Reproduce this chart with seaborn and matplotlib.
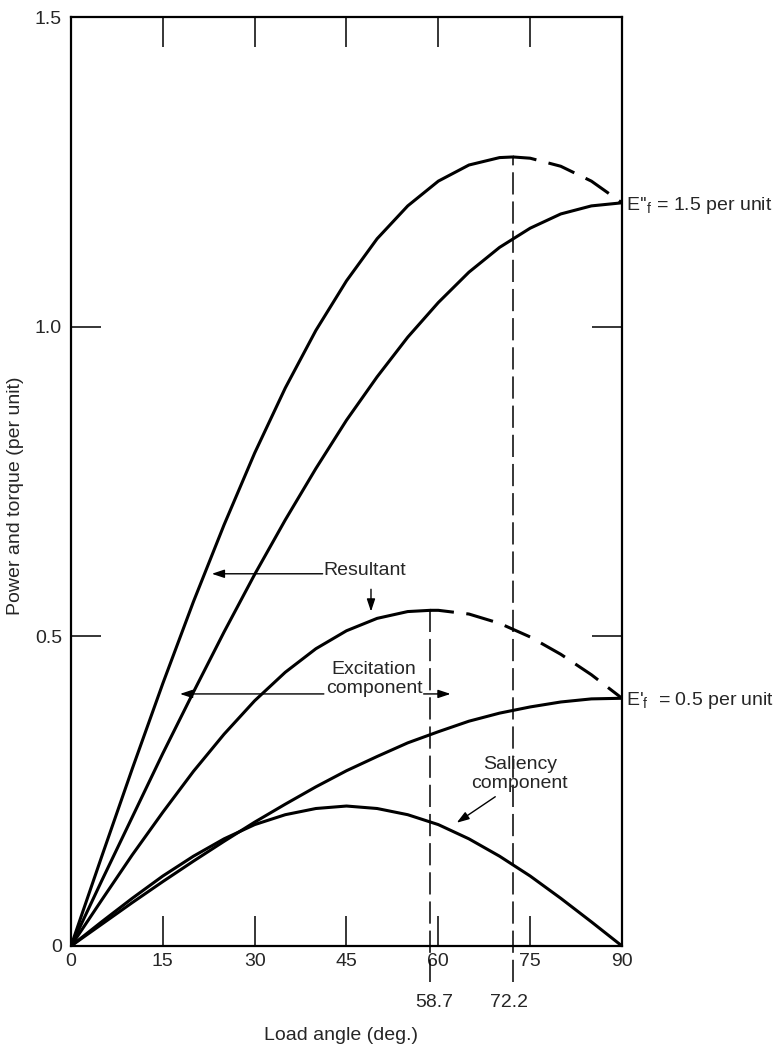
import matplotlib
matplotlib.use("Agg")
import matplotlib.pyplot as plt
import seaborn as sns
import pandas as pd

# Load angle samples (degrees)
angle = [0, 5, 10, 15, 20, 25, 30, 35, 40, 45, 50, 55, 60, 65, 70, 75, 80, 85, 90]

# Component curves (per unit)
saliency = [0.000, 0.039, 0.077, 0.113, 0.145, 0.173, 0.196, 0.212, 0.222, 0.226,
            0.222, 0.212, 0.196, 0.173, 0.145, 0.113, 0.077, 0.039, 0.000]
excitation_low = [0.000, 0.035, 0.070, 0.104, 0.137, 0.169, 0.200, 0.229, 0.257, 0.283,
                  0.306, 0.328, 0.346, 0.363, 0.376, 0.386, 0.394, 0.399, 0.400]
excitation_high = [0.000, 0.105, 0.208, 0.311, 0.410, 0.507, 0.600, 0.688, 0.771, 0.849,
                   0.919, 0.983, 1.039, 1.088, 1.128, 1.159, 1.182, 1.195, 1.200]

# Resultant curves, including their maxima
resultant_low_angle = [0, 5, 10, 15, 20, 25, 30, 35, 40, 45, 50, 55, 58.7,
                       60, 65, 70, 75, 80, 85, 90]
resultant_low = [0.000, 0.074, 0.147, 0.216, 0.282, 0.342, 0.396, 0.442, 0.480, 0.509,
                 0.529, 0.540, 0.542, 0.542, 0.536, 0.521, 0.499, 0.471, 0.438, 0.400]
resultant_high_angle = [0, 5, 10, 15, 20, 25, 30, 35, 40, 45, 50, 55, 60, 65, 70, 72.2,
                        75, 80, 85, 90]
resultant_high = [0.000, 0.144, 0.286, 0.424, 0.556, 0.680, 0.796, 0.901, 0.994, 1.074,
                  1.142, 1.195, 1.235, 1.261, 1.273, 1.274, 1.272, 1.259, 1.235, 1.200]

peak_angle = [58.7, 72.2]
peak_value = [0.542, 1.274]
peak_labels = ["58.7", "72.2"]

x_ticks = [0, 15, 30, 45, 60, 75, 90]
y_ticks = [0, 0.5, 1.0, 1.5]
y_tick_labels = ["0", "0.5", "1.0", "1.5"]

sns.set_style("ticks")
plt.rcParams["font.family"] = ["Liberation Sans", "DejaVu Sans"]
plt.rcParams["mathtext.fontset"] = "custom"
plt.rcParams["mathtext.rm"] = "Liberation Sans"
plt.rcParams["mathtext.it"] = "Liberation Sans:italic"
plt.rcParams["lines.scale_dashes"] = False
plt.rcParams["font.size"] = 14

W, H = 784, 1050
fig = plt.figure(figsize=(W / 100, H / 100), dpi=100)
ax = fig.add_axes([71 / W, 1 - 946 / H, 551 / W, 929 / H])

LW = 2.2
curve_dash = (3, (20, 9))

# Components
sns.lineplot(x=angle, y=saliency, ax=ax, color="black", lw=LW, estimator=None, sort=False)
sns.lineplot(x=angle, y=excitation_low, ax=ax, color="black", lw=LW, estimator=None, sort=False)
sns.lineplot(x=angle, y=excitation_high, ax=ax, color="black", lw=LW, estimator=None, sort=False)

# Resultants: solid up to the maximum, dashed beyond it
for xs, ys, pk in [(resultant_low_angle, resultant_low, peak_angle[0]),
                   (resultant_high_angle, resultant_high, peak_angle[1])]:
    df = pd.DataFrame({"angle": xs, "p": ys})
    rise = df[df["angle"] <= pk]
    fall = df[df["angle"] >= pk]
    sns.lineplot(data=rise, x="angle", y="p", ax=ax, color="black", lw=LW,
                 estimator=None, sort=False)
    sns.lineplot(data=fall, x="angle", y="p", ax=ax, color="black", lw=LW,
                 estimator=None, sort=False, linestyle=curve_dash)

# Vertical markers at the maxima, running below the axis
ax.vlines(peak_angle, ymin=-0.058, ymax=peak_value, colors="black", lw=1.1,
          linestyles=[(0, (16, 5))], clip_on=False)
for a, lab, dx in zip(peak_angle, peak_labels, [0.7, -0.6]):
    ax.text(a + dx, -0.0905, lab, ha="center", va="center", fontsize=14, clip_on=False)

ax.set_xlim(0, 90)
ax.set_ylim(0, 1.5)
ax.set_xticks(x_ticks)
ax.set_xticklabels([str(t) for t in x_ticks])
ax.set_yticks(y_ticks)
ax.set_yticklabels(y_tick_labels)
ax.tick_params(axis="both", direction="in", length=21.6, width=1.1, top=True, right=True,
               labelsize=14, color="black")
ax.tick_params(axis="x", pad=5)
ax.tick_params(axis="y", pad=6.5)
for s in ax.spines.values():
    s.set_linewidth(1.6)
    s.set_color("black")

ax.set_xlabel("Load angle (deg.)", fontsize=14)
ax.set_ylabel("Power and torque (per unit)", fontsize=14)
ax.xaxis.set_label_coords(0.49, -0.087)
ax.yaxis.set_label_coords(-0.085, 0.485)

# End labels
ax.annotate("E''$_\\mathregular{f}$ = 1.5 per unit", xy=(90, 1.2), xytext=(3, -5),
            textcoords="offset points", ha="left", va="baseline", fontsize=14,
            annotation_clip=False)
ax.annotate("E'$_\\mathregular{f}$  = 0.5 per unit", xy=(90, 0.4), xytext=(3, -5),
            textcoords="offset points", ha="left", va="baseline", fontsize=14,
            annotation_clip=False)

arrow = dict(arrowstyle="-|>,head_length=0.75,head_width=0.25", color="black", lw=1.0,
             mutation_scale=10, shrinkA=0, shrinkB=0)

# Resultant
ax.text(41.3, 0.607, "Resultant", ha="left", va="center", fontsize=14)
ax.annotate("", xy=(23.0, 0.601), xytext=(41.1, 0.601), arrowprops=arrow)
ax.annotate("", xy=(49.0, 0.540), xytext=(49.0, 0.576), arrowprops=arrow)

# Excitation component
ax.text(49.5, 0.431, "Excitation\ncomponent", ha="center", va="center", fontsize=14,
        linespacing=1.15)
ax.annotate("", xy=(17.8, 0.407), xytext=(41.3, 0.407), arrowprops=arrow)
ax.annotate("", xy=(62.0, 0.407), xytext=(57.6, 0.407), arrowprops=arrow)

# Saliency component
ax.text(73.3, 0.278, "Saliency\ncomponent", ha="center", va="center", fontsize=14,
        linespacing=1.15)
ax.annotate("", xy=(63.0, 0.199), xytext=(69.3, 0.241), arrowprops=arrow)

fig.savefig("out.png", dpi=100)
